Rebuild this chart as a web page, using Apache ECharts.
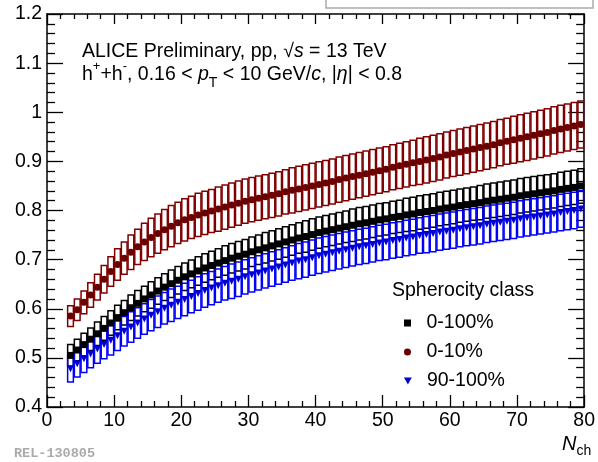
<!DOCTYPE html>
<html>
<head>
<meta charset="utf-8">
<script src="https://cdn.jsdelivr.net/npm/echarts/dist/echarts.min.js"></script>
<style>
  html, body { margin: 0; padding: 0; background: #fff; }
  #main { width: 598px; height: 462px; }
</style>
</head>
<body>
<div id="main"></div>
<script>
// Nch bin centres
var nch = [
  3.5, 4.5, 5.5, 6.5, 7.5, 8.5, 9.5, 10.5, 11.5, 12.5,
  13.5, 14.5, 15.5, 16.5, 17.5, 18.5, 19.5, 20.5, 21.5, 22.5,
  23.5, 24.5, 25.5, 26.5, 27.5, 28.5, 29.5, 30.5, 31.5, 32.5,
  33.5, 34.5, 35.5, 36.5, 37.5, 38.5, 39.5, 40.5, 41.5, 42.5,
  43.5, 44.5, 45.5, 46.5, 47.5, 48.5, 49.5, 50.5, 51.5, 52.5,
  53.5, 54.5, 55.5, 56.5, 57.5, 58.5, 59.5, 60.5, 61.5, 62.5,
  63.5, 64.5, 65.5, 66.5, 67.5, 68.5, 69.5, 70.5, 71.5, 72.5,
  73.5, 74.5, 75.5, 76.5, 77.5, 78.5, 79.5
]

// <pT> 0-100%
var allVal = [
  .505, .516, .527, .538, .549, .560, .571, .582, .592, .602,
  .611, .620, .628, .636, .644, .651, .658, .665, .671, .677,
  .683, .688, .693, .698, .703, .707, .711, .716, .720, .724,
  .728, .732, .736, .740, .744, .747, .751, .755, .758, .761,
  .764, .767, .770, .773, .775, .778, .781, .783, .786, .788,
  .791, .793, .796, .798, .800, .803, .805, .807, .810, .812,
  .814, .816, .819, .821, .823, .825, .827, .830, .832, .834,
  .836, .838, .840, .843, .845, .847, .850
]
var allSys = [
  .022, .022, .023, .023, .024, .024, .025, .025, .025, .026,
  .026, .026, .027, .027, .027, .028, .028, .028, .028, .029,
  .029, .029, .029, .030, .030, .030, .030, .030, .030, .031,
  .031, .031, .031, .031, .031, .032, .032, .032, .032, .032,
  .032, .032, .033, .033, .033, .033, .033, .033, .033, .033,
  .034, .034, .034, .034, .034, .034, .034, .034, .034, .034,
  .034, .035, .035, .035, .035, .035, .035, .035, .035, .035,
  .035, .035, .035, .035, .035, .035, .035
]

// <pT> 0-10% (jetty)
var jetVal = [
  .585, .598, .613, .628, .644, .660, .676, .690, .703, .715,
  .726, .736, .745, .753, .761, .768, .775, .781, .786, .791,
  .795, .799, .803, .807, .811, .815, .819, .822, .825, .828,
  .831, .834, .838, .841, .844, .847, .850, .853, .856, .859,
  .863, .866, .869, .872, .875, .878, .881, .884, .888, .891,
  .894, .897, .900, .903, .906, .909, .913, .916, .919, .922,
  .925, .928, .931, .934, .938, .941, .944, .947, .950, .953,
  .956, .959, .963, .966, .969, .972, .975
]
var jetSys = [
  .021, .022, .023, .025, .026, .028, .030, .032, .033, .035,
  .036, .038, .039, .040, .041, .042, .042, .043, .043, .044,
  .044, .044, .045, .045, .045, .045, .045, .045, .045, .045,
  .045, .045, .045, .046, .046, .046, .046, .046, .046, .046,
  .046, .046, .046, .046, .046, .046, .046, .046, .046, .046,
  .046, .046, .047, .047, .047, .047, .047, .047, .047, .047,
  .047, .047, .047, .047, .047, .047, .048, .048, .048, .048,
  .048, .048, .048, .048, .048, .048, .048
]

// <pT> 90-100% (isotropic)
var isoVal = [
  .478, .488, .498, .508, .518, .527, .536, .545, .554, .563,
  .571, .579, .587, .594, .601, .607, .613, .619, .625, .631,
  .637, .642, .647, .652, .656, .660, .665, .669, .673, .677,
  .681, .685, .689, .693, .697, .700, .704, .708, .711, .714,
  .717, .720, .723, .726, .728, .731, .734, .736, .739, .741,
  .744, .746, .749, .751, .753, .756, .758, .760, .763, .765,
  .767, .769, .772, .774, .776, .778, .780, .783, .785, .787,
  .789, .791, .793, .796, .798, .800, .803
]
var isoSys = [
  .027, .027, .028, .028, .029, .029, .030, .030, .030, .031,
  .031, .031, .032, .032, .032, .033, .033, .033, .033, .034,
  .034, .034, .034, .034, .035, .035, .035, .035, .035, .035,
  .035, .035, .035, .035, .036, .036, .036, .036, .036, .036,
  .036, .036, .036, .036, .036, .036, .036, .036, .036, .036,
  .036, .036, .036, .037, .037, .037, .037, .037, .037, .037,
  .037, .037, .037, .037, .037, .037, .037, .037, .037, .037,
  .037, .037, .037, .037, .037, .037, .037
]

var classNames = ['0-100%', '0-10%', '90-100%']

var font = '"Liberation Sans", Arial, Helvetica, sans-serif'
var fs = 19.5

// syst. boxes, one bin wide
function boxSeries(name, vals, errs, color) {
  return {
    name: name,
    type: 'custom',
    silent: true,
    z: 2,
    data: nch.map(function (x, i) { return [x, vals[i], errs[i]] }),
    renderItem: function (params, api) {
      var c = api.coord([api.value(0), api.value(1)])
      var hi = api.coord([api.value(0), api.value(1) + api.value(2)])
      var lo = api.coord([api.value(0), api.value(1) - api.value(2)])
      var w = api.size([1, 0])[0] - 1
      return {
        type: 'rect',
        shape: { x: c[0] - w / 2, y: hi[1], width: w, height: lo[1] - hi[1] },
        style: { fill: 'none', stroke: color, lineWidth: 1.5 }
      }
    }
  }
}

function pointSeries(name, vals, symbol, size, color) {
  return {
    name: name,
    type: 'scatter',
    silent: true,
    z: 3,
    symbol: symbol,
    symbolSize: size,
    itemStyle: { color: color, opacity: 1 },
    data: nch.map(function (x, i) { return [x, vals[i]] })
  }
}

function legendItem(name, icon, top) {
  return {
    left: 404, top: top, padding: 0,
    itemWidth: 28, itemHeight: 7,
    selectedMode: false,
    data: [{ name: name, icon: icon }],
    textStyle: { fontSize: fs, fontFamily: font, color: '#000' }
  }
}

var axisX = {
  type: 'value', min: 0, max: 80, interval: 10,
  splitLine: { show: false },
  axisLine: { onZero: false, lineStyle: { color: '#000', width: 1.5 } },
  axisTick: { inside: true, length: 12, lineStyle: { color: '#000', width: 1.3 } },
  minorTick: { show: true, splitNumber: 5, length: 6, lineStyle: { color: '#000', width: 1.3 } },
  axisLabel: { fontSize: fs, fontFamily: font, color: '#000', margin: 4 }
}
var axisY = {
  type: 'value', min: 0.4, max: 1.2, interval: 0.1,
  splitLine: { show: false },
  axisLine: { onZero: false, lineStyle: { color: '#000', width: 1.5 } },
  axisTick: { inside: true, length: 16, lineStyle: { color: '#000', width: 1.3 } },
  minorTick: { show: true, splitNumber: 5, length: 8, lineStyle: { color: '#000', width: 1.3 } },
  axisLabel: { fontSize: fs, fontFamily: font, color: '#000', margin: 5 }
}

var myChart = echarts.init(document.getElementById('main'))
myChart.setOption({
  animation: false,
  backgroundColor: '#fff',
  grid: { left: 47, top: 14, width: 544, height: 393 },
  xAxis: [
    Object.assign({}, axisX, { position: 'bottom' }),
    Object.assign({}, axisX, {
      position: 'top',
      axisLabel: { show: false },
      axisTick: Object.assign({}, axisX.axisTick, { length: 10 }),
      minorTick: Object.assign({}, axisX.minorTick, { length: 5 })
    })
  ],
  yAxis: [
    Object.assign({}, axisY, { position: 'left' }),
    Object.assign({}, axisY, { position: 'right', axisLabel: { show: false } })
  ],
  legend: [
    legendItem(classNames[0], 'path://M0,0h10v10h-10z', 313),
    legendItem(classNames[1], 'path://M5,0A5,5,0,1,1,4.99,0z', 342),
    legendItem(classNames[2], 'path://M0,0L10,0L5,9z', 371)
  ],
  graphic: [
    // leftover frame of a box cut by the page edge
    { type: 'rect', shape: { x: 326, y: -10, width: 267, height: 18 },
      style: { fill: 'none', stroke: '#aaa', lineWidth: 1.5 } },
    { type: 'text', left: 82, top: 42,
      style: {
        text: '{a|ALICE Preliminary, pp, }{a|\u221a}{i|s}{a| = 13 TeV}',
        rich: {
          a: { fontSize: fs, fontFamily: font, color: '#000' },
          i: { fontSize: fs, fontFamily: font, fontStyle: 'italic', color: '#000' }
        }
      } },
    { type: 'text', left: 82, top: 60,
      style: {
        text: '{a|h}{sup|+}{a|+h}{sup|-}{a|, 0.16 < }{i|p}{sub|T}{a| < 10 GeV/}{i|c}{a|, |}{i|\u03b7}{a|| < 0.8}',
        rich: {
          a: { fontSize: fs, fontFamily: font, color: '#000', lineHeight: 30 },
          i: { fontSize: fs, fontFamily: font, fontStyle: 'italic', color: '#000', lineHeight: 30 },
          sup: { fontSize: 13, fontFamily: font, color: '#000', lineHeight: 18, verticalAlign: 'top' },
          sub: { fontSize: 14, fontFamily: font, color: '#000', lineHeight: 14, verticalAlign: 'bottom' }
        }
      } },
    { type: 'text', left: 392, top: 281,
      style: { text: 'Spherocity class', font: fs + 'px ' + font, fill: '#000' } },
    { type: 'text', left: 562, top: 434,
      style: {
        text: '{n|N}{s|ch}',
        rich: {
          n: { fontSize: 20, fontFamily: font, fontStyle: 'italic', color: '#000', lineHeight: 28 },
          s: { fontSize: 14, fontFamily: font, color: '#000', lineHeight: 16, verticalAlign: 'bottom' }
        }
      } },
    { type: 'text', left: 14, top: 447,
      style: { text: 'REL-130805', font: 'bold 13.5px "Liberation Mono", monospace', fill: '#aaa' } }
  ],
  series: [
    boxSeries('box-all', allVal, allSys, '#000'),
    boxSeries('box-jet', jetVal, jetSys, '#800000'),
    boxSeries('box-iso', isoVal, isoSys, '#0000ff'),
    pointSeries(classNames[0], allVal, 'rect', 7, '#000'),
    pointSeries(classNames[1], jetVal, 'circle', 7, '#6a0000'),
    pointSeries(classNames[2], isoVal, 'path://M0,0L10,0L5,9z', 7, '#0000cc')
  ]
})
</script>
</body>
</html>
